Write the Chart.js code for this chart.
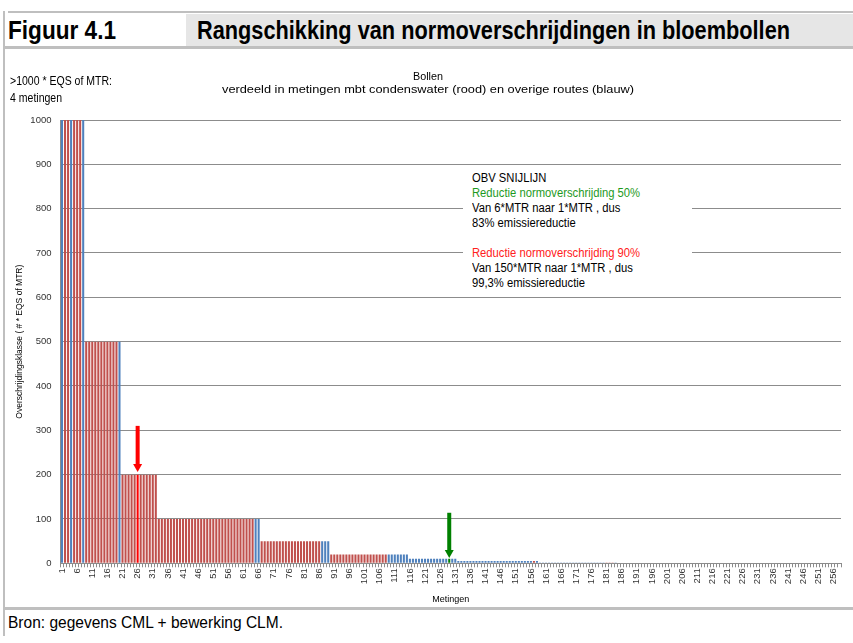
<!DOCTYPE html>
<html>
<head>
<meta charset="utf-8">
<script src="https://cdn.jsdelivr.net/npm/chart.js@4"></script>
<style>
  body { margin: 0; width: 853px; height: 643px; background: #fff; position: relative; overflow: hidden;
         font-family: "Liberation Sans", Arial, sans-serif; color: #000; }
  .abs { position: absolute; white-space: nowrap; }
  .line { position: absolute; background: #bfbfbf; }
  #band { left: 186px; top: 14px; width: 667px; height: 32px; background: #e6e6e6; }
  .head { font-weight: bold; font-size: 25px; top: 16px; }
  #chartBox { left: 6px; top: 49px; width: 847px; height: 558px; }
  .note { font-size: 12.5px; line-height: 15px; }
  #snij { left: 463px; top: 170px; width: 229px; height: 127px; background: #fff; }
</style>
</head>
<body>
<div class="line" style="left:8px;top:11px;width:845px;height:2px"></div>
<div class="line" style="left:3px;top:11px;width:2px;height:625px"></div>
<div id="band" class="abs"></div>
<div class="abs head" style="left:8px" data-w="108">Figuur 4.1</div>
<div class="abs head" style="left:197px" data-w="593">Rangschikking van normoverschrijdingen in bloembollen</div>
<div class="line" style="left:3px;top:46px;width:850px;height:3px"></div>

<div id="chartBox" class="abs"><canvas id="rankChart"></canvas></div>

<div class="abs note" style="left:10px;top:72px;line-height:17px;font-size:13px" data-w="102">&gt;1000 * EQS of MTR:<br>4 metingen</div>
<div class="abs" style="top:70px;font-size:11px" data-w="30" data-cx="428">Bollen</div>
<div class="abs" style="top:83px;font-size:11px" data-w="412" data-cx="428">verdeeld in metingen mbt condenswater (rood) en overige routes (blauw)</div>

<div id="snij" class="abs"></div>
<div class="abs note" style="left:472px;top:171px" data-w="168">
  OBV SNIJLIJN<br>
  <span style="color:#1e9a1e">Reductie normoverschrijding 50%</span><br>
  Van 6*MTR naar 1*MTR , dus<br>
  83% emissiereductie<br>
  <br>
  <span style="color:#ff2020">Reductie normoverschrijding 90%</span><br>
  Van 150*MTR naar 1*MTR , dus<br>
  99,3% emissiereductie
</div>

<div class="line" style="left:3px;top:607px;width:850px;height:3px"></div>
<div class="abs" style="left:8px;top:613px;font-size:17px" data-w="275">Bron: gegevens CML + bewerking CLM.</div>

<script>
// Overschrijdingsklasse per meting (gerangschikt), # * EQS of MTR
const values = [
    1000, 1000, 1000, 1000, 1000, 1000, 1000, 1000, 500, 500,   // 1-10
    500, 500, 500, 500, 500, 500, 500, 500, 500, 500,           // 11-20
    200, 200, 200, 200, 200, 200, 200, 200, 200, 200,           // 21-30
    200, 200, 100, 100, 100, 100, 100, 100, 100, 100,           // 31-40
    100, 100, 100, 100, 100, 100, 100, 100, 100, 100,           // 41-50
    100, 100, 100, 100, 100, 100, 100, 100, 100, 100,           // 51-60
    100, 100, 100, 100, 100, 100, 50, 50, 50, 50,               // 61-70
    50, 50, 50, 50, 50, 50, 50, 50, 50, 50,                     // 71-80
    50, 50, 50, 50, 50, 50, 50, 50, 50, 20,                     // 81-90
    20, 20, 20, 20, 20, 20, 20, 20, 20, 20,                     // 91-100
    20, 20, 20, 20, 20, 20, 20, 20, 20, 20,                     // 101-110
    20, 20, 20, 20, 20, 10, 10, 10, 10, 10,                     // 111-120
    10, 10, 10, 10, 10, 10, 10, 10, 10, 10,                     // 121-130
    10, 5, 5, 5, 5, 5, 5, 5, 5, 5,                              // 131-140
    5, 5, 5, 5, 5, 5, 5, 5, 5, 5,                               // 141-150
    5, 5, 5, 5, 5, 5, 5, 5, 2, 2,                               // 151-160
    2, 2, 2, 2, 2, 2, 2, 2, 2, 2,                               // 161-170
    2, 2, 2, 2, 2, 2, 2, 2, 2, 2,                               // 171-180
    2, 2, 2, 2, 1, 1, 1, 1, 1, 1,                               // 181-190
    1, 1, 1, 1, 1, 1, 1, 1, 1, 1,                               // 191-200
    1, 1, 1, 1, 1, 1, 1, 1, 1, 1,                               // 201-210
    1, 1, 1, 1, 1, 1, 1, 1, 1, 1,                               // 211-220
    1, 1, 1, 1, 1, 1, 1, 1, 1, 1,                               // 221-230
    1, 1, 1, 1, 1, 1, 1, 1, 1, 1,                               // 231-240
    1, 1, 1, 1, 1, 1, 1, 1, 1, 1,                               // 241-250
    1, 1, 1, 1, 1, 1, 1, 1                                      // 251-258
];

// Route per meting: C = condenswater (rood), O = overige routes (blauw)
const routes = [
    'OCCOCCCOCC', 'CCCCCCCCCO', 'CCCCCCCCCC', 'CCCCCCCCCC', 'CCCCCCCCCC',
    'CCCCCCCCCC', 'CCCCOOCCCC', 'CCCCCCCCCC', 'CCCCCCOOOC', 'CCCCCCCCCC',
    'CCCCCCCCOO', 'OOOOOOOOOO', 'OOOOOOOOOO', 'OOOOOOOOOO', 'OOOOOOOOOO',
    'OOOOOOCOOO', 'OOOOOOOOOO', 'OOOOOOOOOO', 'CCCOOOOOOO', 'OOOOOOOOOO',
    'OOOOOOOOOO', 'OOOOOOOOOO', 'OOOOOOOOOO', 'OOOOOOOOOO', 'OOOOOOOOOO',
    'OOOOOOOO'
].join('').split('');

// metingnummers 1..n
const metingen = values.map((v, i) => String(i + 1));
const yTicks = [0, 100, 200, 300, 400, 500, 600, 700, 800, 900, 1000];

// snijlijn-pijlen: meting, van, tot (in klasse-eenheden)
const arrows = [
    { meting: 26, from: 310, to: 206, color: '#ff0000' },
    { meting: 129, from: 114, to: 12, color: '#008000' }
];

const routeColors = { C: '#c0504d', O: '#4f81bd' };
const barColors = routes.map((r, i) => {
    const a = arrows.find(a => a.meting === i + 1);
    return a ? a.color : routeColors[r];
});

// smalle letter (Arial Narrow achtig): tekst horizontaal op breedte brengen
document.querySelectorAll('[data-w]').forEach(el => {
    const w = el.getBoundingClientRect().width;
    const target = +el.dataset.w;
    el.style.transformOrigin = '0 0';
    el.style.transform = 'scaleX(' + (target / w) + ')';
    if (el.dataset.cx) el.style.left = (+el.dataset.cx - target / 2) + 'px';
});

const arrowPlugin = {
    id: 'arrows',
    afterDatasetsDraw(chart) {
        const ctx = chart.ctx;
        const xs = chart.scales.x, ys = chart.scales.y;
        arrows.forEach(a => {
            const x = xs.getPixelForValue(a.meting - 1);
            const y1 = ys.getPixelForValue(a.from);
            const y2 = ys.getPixelForValue(a.to);
            ctx.save();
            ctx.fillStyle = a.color;
            ctx.fillRect(x - 2, y1, 4, y2 - y1 - 7);
            ctx.beginPath();
            ctx.moveTo(x - 4.5, y2 - 8);
            ctx.lineTo(x + 4.5, y2 - 8);
            ctx.lineTo(x, y2);
            ctx.closePath();
            ctx.fill();
            ctx.restore();
        });
    }
};

const tickFont = { family: '"Liberation Sans", Arial, sans-serif', size: 9.5 };

new Chart(document.getElementById('rankChart'), {
    type: 'bar',
    data: {
        labels: metingen,
        datasets: [{
            data: values,
            backgroundColor: barColors,
            borderWidth: 0,
            barPercentage: 0.68,
            categoryPercentage: 1.0
        }]
    },
    options: {
        responsive: true,
        maintainAspectRatio: false,
        animation: false,
        layout: { padding: { top: 71, right: 12, left: 0, bottom: 0 } },
        plugins: { legend: { display: false }, tooltip: { enabled: false } },
        scales: {
            x: {
                grid: { drawOnChartArea: false, drawTicks: true, tickLength: 4, color: '#8c8c8c', offset: true },
                border: { color: '#8c8c8c' },
                ticks: {
                    autoSkip: false,
                    minRotation: 90,
                    maxRotation: 90,
                    padding: 1,
                    color: '#333',
                    font: tickFont,
                    callback: (v, i) => (i % 5 === 0 ? metingen[i] : '')
                },
                title: { display: true, text: 'Metingen', font: { family: tickFont.family, size: 9 }, color: '#000', padding: { top: 0, bottom: 2 } },
                afterFit: s => { s.height = 43.7; }
            },
            y: {
                min: 0,
                max: 1000,
                afterBuildTicks: s => { s.ticks = yTicks.map(v => ({ value: v })); },
                grid: { color: '#8c8c8c', drawTicks: false },
                border: { color: '#8c8c8c' },
                ticks: { padding: 9, color: '#333', font: tickFont, callback: v => String(v) },
                title: { display: true, text: 'Overschrijdingsklasse ( # * EQS of MTR)', font: { family: tickFont.family, size: 8.5 }, color: '#000', padding: { top: 9, bottom: 0 } },
                afterFit: s => { s.width = 54.5; }
            }
        }
    },
    plugins: [arrowPlugin]
});
</script>
</body>
</html>
